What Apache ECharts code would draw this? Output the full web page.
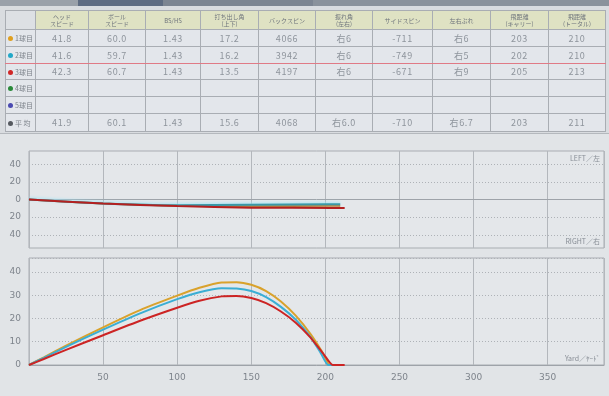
<!DOCTYPE html>
<html><head><meta charset="utf-8">
<script src="https://cdn.jsdelivr.net/npm/echarts@6/dist/echarts.min.js"></script>
<style>
html,body{margin:0;padding:0;width:609px;height:396px;overflow:hidden;background:#d9dce0;font-family:"Noto Sans CJK JP","Noto Sans",sans-serif;}
#topbar{position:absolute;left:0;top:0;width:609px;height:6px;background:#8a929c;}
#topbar .tab{position:absolute;top:0;height:6px;}
#panel{position:absolute;left:0;top:133px;width:609px;height:263px;background:#e1e4e7;border-top:1px solid #b4b8bd;}
#chart{position:absolute;left:0;top:0;width:609px;height:396px;}
#tbl{position:absolute;left:5px;top:10px;width:600px;border-collapse:collapse;table-layout:fixed;z-index:2;}
#tbl td{border:1px solid #a9adb3;padding:0;text-align:center;color:#8e949c;font-size:9px;letter-spacing:0.6px;background:#e3e6eb;white-space:nowrap;overflow:hidden;}
#tbl tr.h td{background:#dfe2c3;font-size:6px;line-height:7px;color:#6e747c;letter-spacing:0;height:18px;}
#tbl tr.h td.c0{background:#dde0e4;}
#tbl td.lab{text-align:left;font-size:7px;letter-spacing:0;color:#7c828a;padding-left:2px;}
#tbl td.lab i{display:inline-block;width:5px;height:5px;border-radius:50%;margin-right:2px;vertical-align:0px;}
#tbl tr.sel td{border-top:1px solid #e07a86;border-bottom:1px solid #e07a86;}
</style></head>
<body>
<div id="topbar"><div class="tab" style="left:0;width:78px;background:#9aa1aa"></div><div class="tab" style="left:78px;width:85px;background:#5e6c82"></div><div class="tab" style="left:163px;width:150px;background:#7c8592"></div></div>
<div id="panel"></div>
<div id="chart"></div>
<table id="tbl"></table>
<script>
// ---- table data ----
const headers = ["", "ヘッド\nスピード", "ボール\nスピード", "BS/HS", "打ち出し角\n(上下)", "バックスピン", "振れ角\n(左右)", "サイドスピン", "左右ぶれ", "飛距離\n(キャリー)", "飛距離\n(トータル)"];
const rowLabels = ["1球目", "2球目", "3球目", "4球目", "5球目", "平 均"];
const rowDotColors = ["#e0a020", "#22a8c8", "#d02828", "#2a8a3a", "#4a4ab0", "#55595f"];
const headSpeed = ["41.8", "41.6", "42.3", "", "", "41.9"];
const ballSpeed = ["60.0", "59.7", "60.7", "", "", "60.1"];
const bsHs = ["1.43", "1.43", "1.43", "", "", "1.43"];
const launchAngle = ["17.2", "16.2", "13.5", "", "", "15.6"];
const backSpin = ["4066", "3942", "4197", "", "", "4068"];
const dirAngle = ["右6", "右6", "右6", "", "", "右6.0"];
const sideSpin = ["-711", "-749", "-671", "", "", "-710"];
const deviation = ["右6", "右5", "右9", "", "", "右6.7"];
const carry = ["203", "202", "205", "", "", "203"];
const total = ["210", "210", "213", "", "", "211"];
const colWidths = [30, 53, 57, 55, 58, 57, 57, 60, 58, 58, 57];
const rowHeights = [16, 16, 15, 16, 16, 17];
const selectedRow = 1;

// ---- chart data ----
const xTicks = [50, 100, 150, 200, 250, 300, 350];
const sideTicks = [-40, -20, 0, 20, 40];
const heightTicks = [0, 10, 20, 30, 40];
const shotNames = ["1球目", "2球目", "3球目"];
const shotColors = ["#d9a22c", "#3aaed4", "#cc2424"];
const side1 = [[0,0],[50,-4.5],[100,-7],[150,-7.5],[203,-7],[210,-7]];
const side2 = [[0,0],[50,-4.5],[100,-6.5],[150,-6],[202,-5.5],[210,-5.5]];
const side3 = [[0,0],[50,-4.5],[100,-7.5],[150,-9.3],[205,-9.5],[213,-9.5]];
const traj1 = [[0,0],[10,3.3],[25,8.3],[50,16.2],[75,23.6],[100,29.8],[115,33.2],[130,35.5],[140,35.6],[150,34.5],[160,31.8],[170,27.3],[180,21.2],[190,13.3],[198,5.5],[203,0],[210,0]];
const traj2 = [[0,0],[10,3.1],[25,7.8],[50,15.2],[75,22.2],[100,28.3],[115,31.3],[130,33],[140,32.9],[150,31.8],[160,29.2],[170,25],[180,19.5],[190,12],[197,5],[202,0],[210,0]];
const traj3 = [[0,0],[10,2.6],[25,6.5],[50,12.8],[75,19],[100,24.6],[115,27.6],[130,29.5],[140,29.7],[150,28.8],[160,26.6],[170,23],[180,18.2],[190,11.8],[199,4.5],[205,0],[213,0]];

// ---- build table ----
const cols = [headSpeed, ballSpeed, bsHs, launchAngle, backSpin, dirAngle, sideSpin, deviation, carry, total];
const tbl = document.getElementById('tbl');
let html = '<colgroup>' + colWidths.map(w => '<col style="width:' + w + 'px">').join('') + '</colgroup>';
html += '<tr class="h">' + headers.map((h, i) => '<td class="' + (i === 0 ? 'c0' : '') + '">' + h.replace('\n', '<br>') + '</td>').join('') + '</tr>';
rowLabels.forEach((lab, r) => {
  html += '<tr class="' + (r === selectedRow ? 'sel' : '') + '">';
  html += '<td class="lab" style="height:' + rowHeights[r] + 'px"><i style="background:' + rowDotColors[r] + '"></i>' + lab + '</td>';
  cols.forEach(c => { html += '<td>' + c[r] + '</td>'; });
  html += '</tr>';
});
tbl.innerHTML = html;

// ---- charts ----
const chart = echarts.init(document.getElementById('chart'));
const axisTxt = {color: '#7e848c', fontSize: 9, fontFamily: 'DejaVu Sans'};
const gridLine = {color: '#b3b7bc', width: 1};
const dotLine = {color: '#aeb2b7', type: [1, 2], width: 1};
function lineSeries(name, data, color, xi, extra) {
  return Object.assign({
    name: name, type: 'line', data: data, xAxisIndex: xi, yAxisIndex: xi,
    showSymbol: false, symbol: 'none', smooth: 0.2,
    lineStyle: {color: color, width: 2}, itemStyle: {color: color}, silent: true, animation: false
  }, extra || {});
}
chart.setOption({
  animation: false,
  grid: [
    {left: 29, right: 5, top: 151, height: 97, show: true, backgroundColor: '#e4e7ea', borderColor: '#a9adb2', borderWidth: 1},
    {left: 29, right: 5, top: 258, height: 107, show: true, backgroundColor: '#e4e7ea', borderColor: '#a9adb2', borderWidth: 1}
  ],
  xAxis: [
    {gridIndex: 0, type: 'value', min: 0, max: 388, interval: 50,
     axisLine: {show: true, onZero: true, lineStyle: {color: '#9ea3a9'}}, axisTick: {show: false}, axisLabel: {show: false},
     splitLine: {show: true, lineStyle: gridLine}},
    {gridIndex: 1, type: 'value', min: 0, max: 388, interval: 50,
     axisLine: {show: true, lineStyle: {color: '#9ea3a9'}}, axisTick: {show: false},
     axisLabel: Object.assign({margin: 8, formatter: v => xTicks.indexOf(v) >= 0 ? String(v) : ''}, axisTxt),
     splitLine: {show: true, lineStyle: gridLine}}
  ],
  yAxis: [
    {gridIndex: 0, type: 'value', min: -55, max: 55,
     axisLine: {show: false}, axisTick: {show: false, customValues: sideTicks},
     axisLabel: Object.assign({margin: 8, customValues: sideTicks, formatter: v => String(Math.abs(v))}, axisTxt),
     splitLine: {show: true, lineStyle: dotLine}},
    {gridIndex: 1, type: 'value', min: 0, max: 46, interval: 10,
     axisLine: {show: false}, axisTick: {show: false},
     axisLabel: Object.assign({margin: 8, formatter: v => heightTicks.indexOf(v) >= 0 ? String(v) : ''}, axisTxt),
     splitLine: {show: true, lineStyle: dotLine}}
  ],
  graphic: [
    {type: 'text', right: 9, top: 155, style: {text: 'LEFT／左', fill: '#878d95', fontSize: 7, fontFamily: 'Noto Sans CJK JP'}},
    {type: 'text', right: 9, top: 238, style: {text: 'RIGHT／右', fill: '#878d95', fontSize: 7, fontFamily: 'Noto Sans CJK JP'}},
    {type: 'text', right: 9, top: 355, style: {text: 'Yard／ﾔｰﾄﾞ', fill: '#878d95', fontSize: 7, fontFamily: 'Noto Sans CJK JP'}}
  ],
  series: [
    lineSeries(shotNames[0], side1, '#b87a2a', 0),
    lineSeries(shotNames[1], side2, '#3a98a6', 0, {lineStyle: {color: '#3a98a6', width: 2, shadowColor: '#9fe4f6', shadowBlur: 3, shadowOffsetY: -1}}),
    lineSeries(shotNames[2], side3, '#b42020', 0),
    lineSeries(shotNames[0], traj1, shotColors[0], 1),
    lineSeries(shotNames[1], traj2, shotColors[1], 1),
    lineSeries(shotNames[2], traj3, shotColors[2], 1)
  ]
});
</script>
</body></html>
